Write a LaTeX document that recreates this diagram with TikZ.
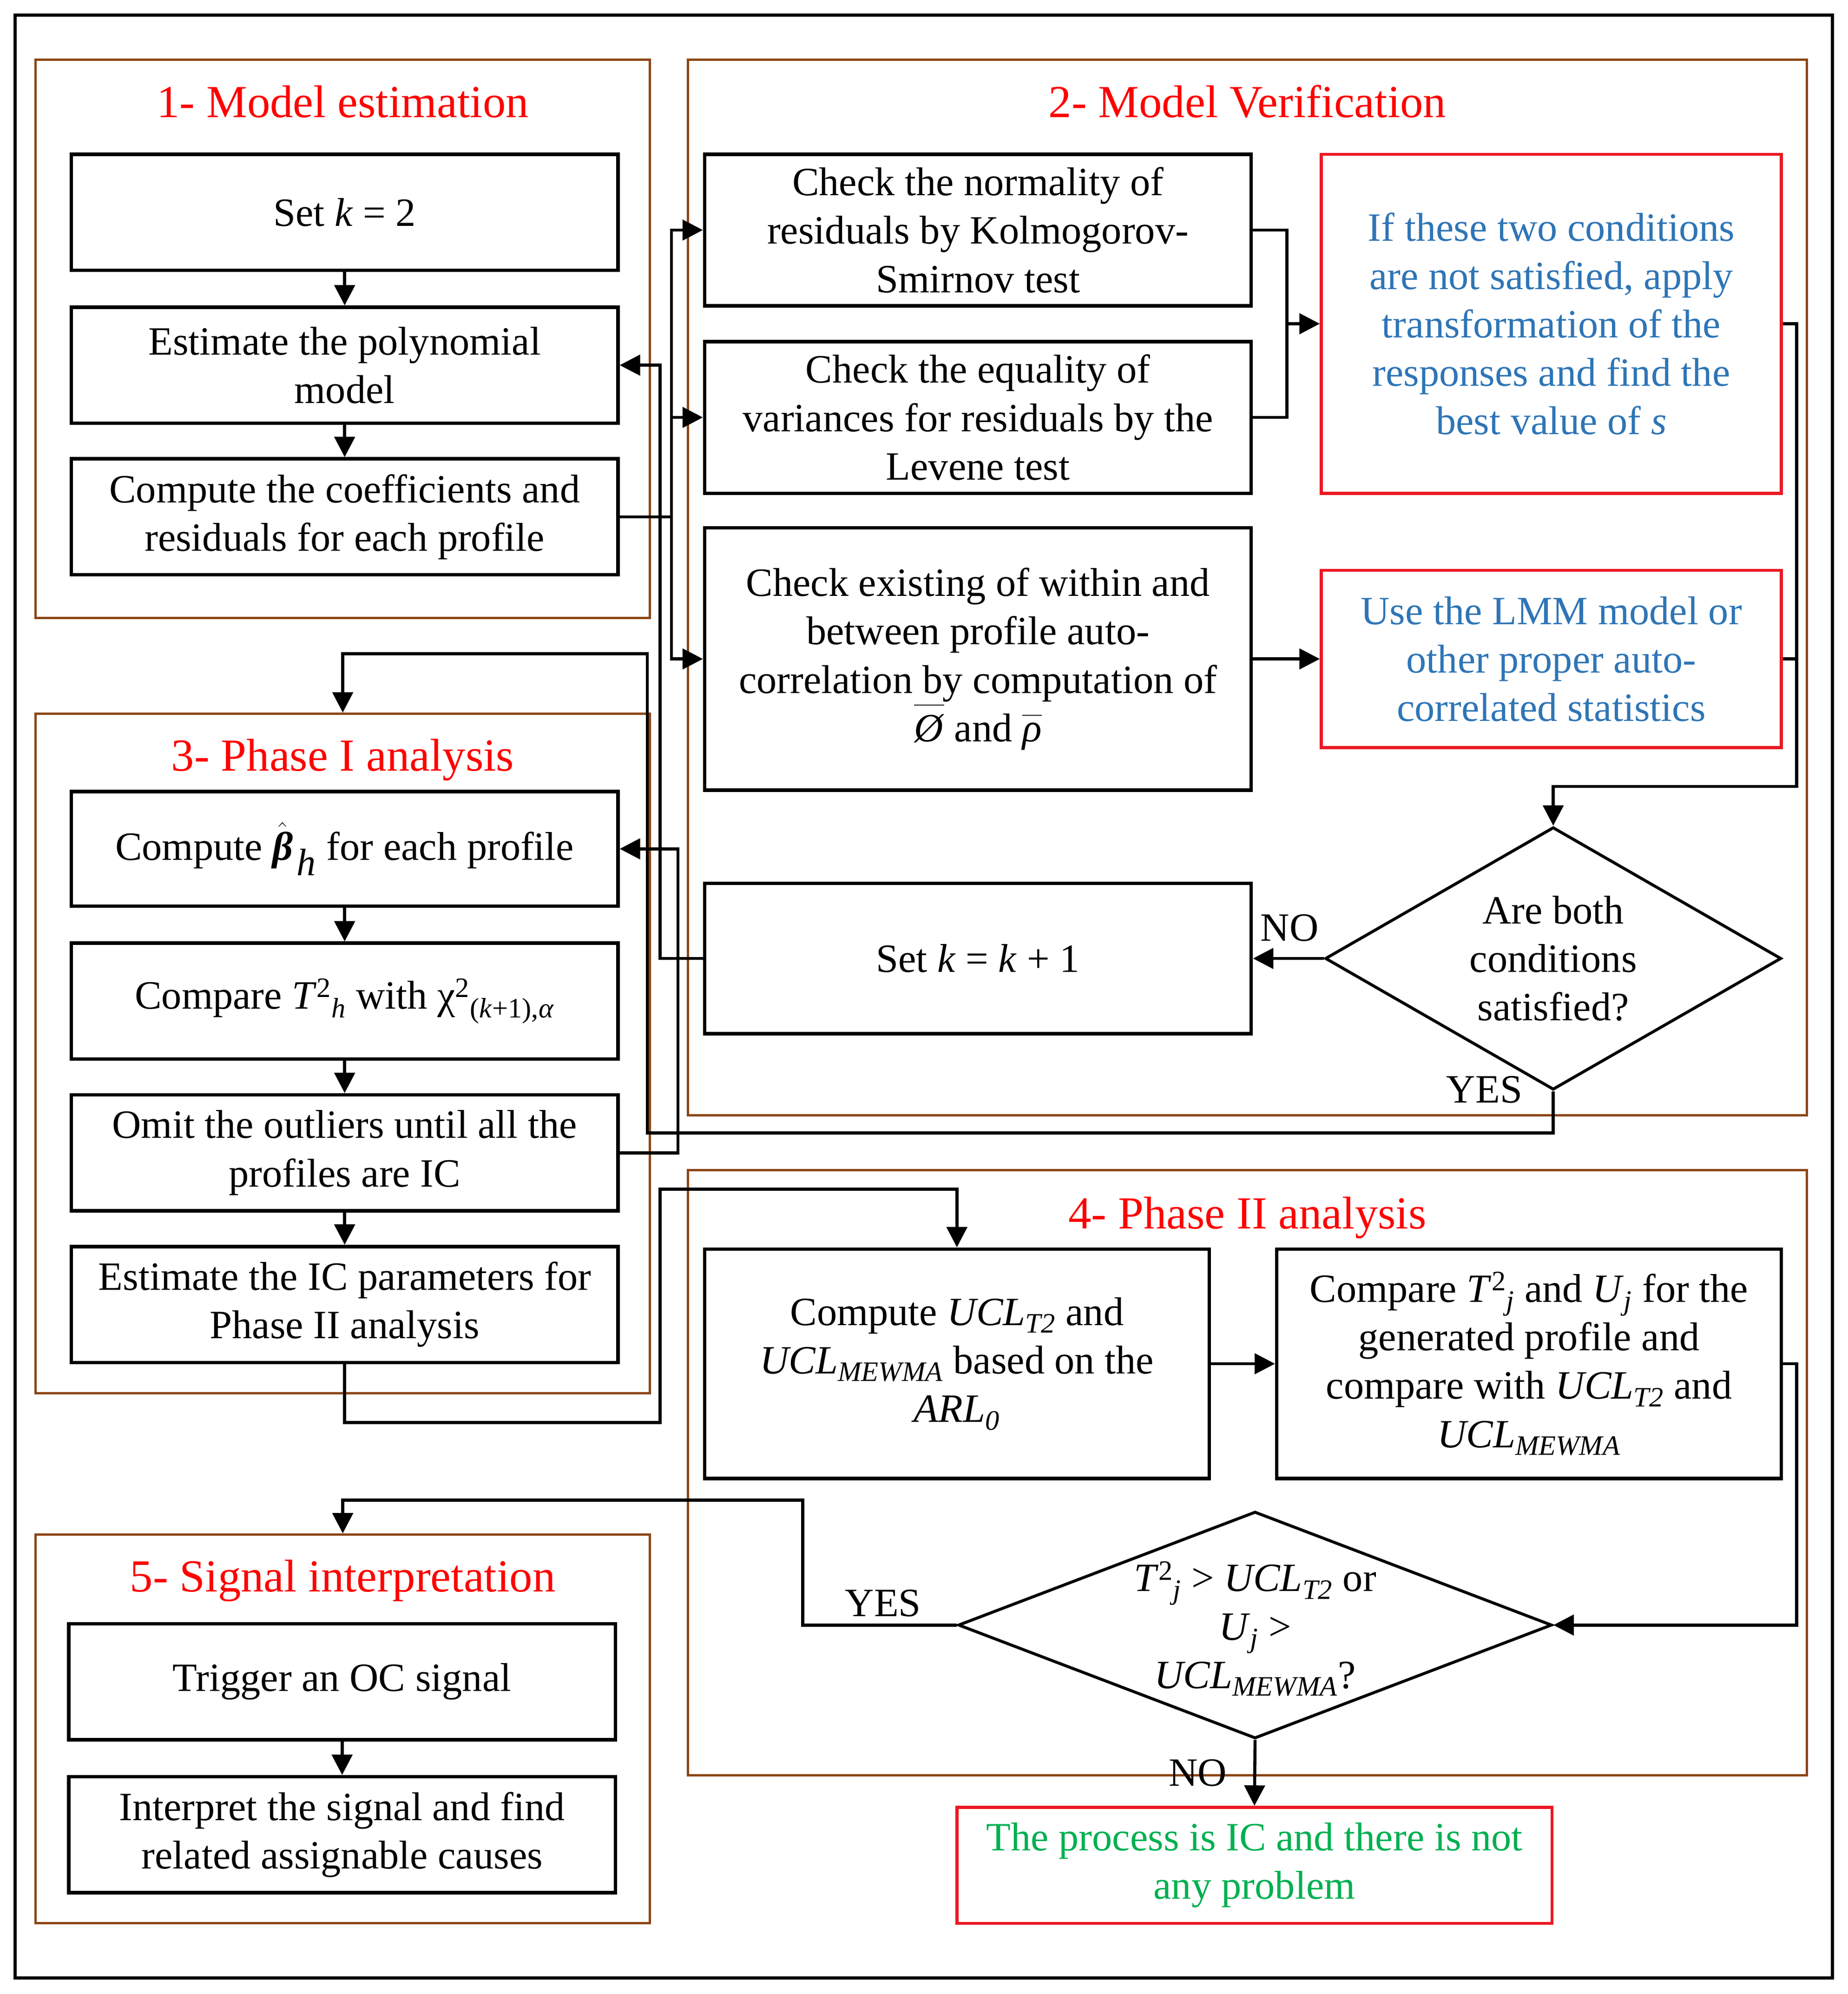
\documentclass[tikz,border=0pt]{standalone}
\usepackage{amsmath}
\usepackage{fontspec}
\setmainfont{Liberation Serif}
\usetikzlibrary{arrows.meta,shapes.geometric,calc}
\definecolor{brownc}{RGB}{140,70,20}
\definecolor{titred}{RGB}{255,0,0}
\definecolor{boxred}{RGB}{235,25,35}
\definecolor{txtblue}{RGB}{46,117,182}
\definecolor{txtgreen}{RGB}{0,176,80}
\newcommand\bodyfs{\fontsize{31.5}{38}\selectfont}
\newcommand\titlefs{\fontsize{36}{43}\selectfont}
\begin{document}
\begin{tikzpicture}[x=1pt,y=-1pt,
 blk/.style={draw, line width=2.7pt, inner sep=0pt, align=center, font=\bodyfs},
 rblk/.style={blk, draw=boxred, line width=2.4pt},
 grp/.style={draw=brownc, line width=1.8pt, inner sep=0pt},
 ttl/.style={font=\titlefs, text=titred, anchor=base, inner sep=0pt},
 dia/.style={draw, diamond, line width=2.3pt, inner sep=0pt},
 lbl/.style={font=\bodyfs, inner sep=0pt},
 ln/.style={line width=2.4pt},
 arr/.style={ln, -{Triangle[length=16pt,width=16pt]}},
]
\useasboundingbox (0,0) rectangle (1450,1564.5);
\node[draw, line width=2.6pt, inner sep=0pt, minimum width=1426pt, minimum height=1540pt] (frame) at (725,782) {};

% group frames
\node[grp, minimum width=482pt, minimum height=438pt] (g1) at (269,266) {};
\node[grp, minimum width=878pt, minimum height=828pt] (g2) at (979,461) {};
\node[grp, minimum width=482pt, minimum height=533pt] (g3) at (269,826.5) {};
\node[grp, minimum width=878pt, minimum height=475pt] (g4) at (979,1155.5) {};
\node[grp, minimum width=482pt, minimum height=305pt] (g5) at (269,1356.5) {};

\node[ttl] (t1) at (269,92) {1- Model estimation};
\node[ttl] (t2) at (979,92) {2- Model Verification};
\node[ttl] (t3) at (269,605) {3- Phase I analysis};
\node[ttl] (t4) at (979,964) {4- Phase II analysis};
\node[ttl] (t5) at (269,1249) {5- Signal interpretation};

% group 1
\node[blk, minimum width=429pt, minimum height=91pt] (setk) at (270.5,166.5) {Set \textit{k} = 2};
\node[blk, minimum width=429pt, minimum height=91pt] (estpoly) at (270.5,286.5) {Estimate the polynomial\\model};
\node[blk, minimum width=429pt, minimum height=91pt] (coeffs) at (270.5,405.5) {Compute the coefficients and\\residuals for each profile};

% group 2
\node[blk, minimum width=429pt, minimum height=119pt] (norm) at (767.5,180.5) {Check the normality of\\residuals by Kolmogorov-\\Smirnov test};
\node[blk, minimum width=429pt, minimum height=119pt] (equal) at (767.5,327.5) {Check the equality of\\variances for residuals by the\\Levene test};
\node[blk, minimum width=429pt, minimum height=206pt] (exist) at (767.5,517) {Check existing of within and\\between profile auto-\\correlation by computation of\\$\overline{\mbox{\rule{0pt}{25pt}\textit{Ø}}}$ and $\overline{\mbox{\rule{0pt}{17pt}\textit{ρ}}}$};
\node[rblk, text=txtblue, minimum width=361pt, minimum height=266pt] (red1) at (1217.5,254) {If these two conditions\\are not satisfied, apply\\transformation of the\\responses and find the\\best value of \textit{s}};
\node[rblk, text=txtblue, minimum width=361pt, minimum height=139pt] (red2) at (1217.5,517) {Use the LMM model or\\other proper auto-\\correlated statistics};
\node[blk, minimum width=429pt, minimum height=118pt] (setk1) at (767.5,752) {Set \textit{k} = \textit{k} + 1};
\node[dia, minimum width=358pt, minimum height=206pt] (d1) at (1219,752) {};
\node[lbl, align=center] (d1t) at (d1) {Are both\\conditions\\satisfied?};

% group 3
\node[blk, minimum width=429pt, minimum height=90pt] (beta) at (270.5,666) {Compute $\hat{\mbox{\rule{0pt}{23pt}\bfseries\itshape β}}$\kern3pt\textsubscript{\fontsize{30}{30}\selectfont\textit{h}} for each profile};
\node[blk, minimum width=429pt, minimum height=91pt] (compare) at (270.5,785.5) {Compare \textit{T}\textsuperscript{2}\textsubscript{\textit{h}} with χ\textsuperscript{2}\textsubscript{(\textit{k}+1),\textit{α}}};
\node[blk, minimum width=429pt, minimum height=91pt] (omit) at (270.5,904.5) {Omit the outliers until all the\\profiles are IC};
\node[blk, minimum width=429pt, minimum height=91pt] (estIC) at (270.5,1023.5) {Estimate the IC parameters for\\Phase II analysis};

% group 4
\node[blk, minimum width=396pt, minimum height=180pt] (ucl) at (751,1070) {Compute \textit{UCL}\textsubscript{\textit{T2}} and\\\textit{UCL}\textsubscript{\textit{MEWMA}} based on the\\\textit{ARL}\textsubscript{\textit{0}}};
\node[blk, minimum width=396pt, minimum height=180pt] (cmpj) at (1200,1070) {Compare \textit{T}\textsuperscript{2}\textsubscript{\textit{j}} and \textit{U}\textsubscript{\textit{j}} for the\\generated profile and\\compare with \textit{UCL}\textsubscript{\textit{T2}} and\\\textit{UCL}\textsubscript{\textit{MEWMA}}};
\node[dia, minimum width=466pt, minimum height=178pt] (d2) at (985,1275) {};
\node[lbl, align=center] (d2t) at (985,1278) {\textit{T}\textsuperscript{2}\textsubscript{\textit{j}} > \textit{UCL}\textsubscript{\textit{T2}} or\\\textit{U}\textsubscript{\textit{j}} >\\\textit{UCL}\textsubscript{\textit{MEWMA}}?};
\node[rblk, text=txtgreen, minimum width=467pt, minimum height=91pt] (green) at (984.5,1463.5) {The process is IC and there is not\\any problem};

% group 5
\node[blk, minimum width=429pt, minimum height=91pt] (trigger) at (268.5,1319.5) {Trigger an OC signal};
\node[blk, minimum width=429pt, minimum height=91pt] (interp) at (268.5,1439.5) {Interpret the signal and find\\related assignable causes};

% labels
\node[lbl] (no1) at (1012,728) {NO};
\node[lbl] (yes1) at (1165,855) {YES};
\node[lbl] (yes2) at (693,1258) {YES};
\node[lbl] (no2) at (940,1391) {NO};

% connectors group 1
\draw[arr] (setk) -- (estpoly);
\draw[arr] (estpoly) -- (coeffs);

\coordinate (bx) at (527,0);
\draw[ln] (coeffs.east) -- (coeffs.east -| bx);
\draw[arr] (coeffs.east -| bx) |- (norm.west);
\draw[arr] (coeffs.east -| bx) |- (equal.west);
\draw[arr] (coeffs.east -| bx) |- (exist.west);

\coordinate (brx) at (1010,0);
\draw[ln] (norm.east) -| (brx |- equal.east) -- (equal.east);
\draw[arr] (brx |- red1.west) -- (red1.west);
\draw[arr] (exist.east) -- (red2.west);

\coordinate (rx) at (1410,617);
\draw[arr] (red1.east) -| (rx) -| (d1.north);
\draw[ln] (red2.east) -- (red2.east -| rx);

\draw[arr] (d1.west) -- (setk1.east);
\coordinate (lx) at (518,0);
\draw[arr] (setk1.west) -- (setk1.west -| lx) |- (estpoly.east);

\coordinate (yb) at (508,889);
\coordinate (yt) at (508,513);
\draw[arr] (d1.south) |- (yb) -- (yt) -| (g3.north);

% group 3
\draw[arr] (beta) -- (compare);
\draw[arr] (compare) -- (omit);
\draw[arr] (omit) -- (estIC);
\coordinate (ox) at (532,0);
\draw[arr] (omit.east) -- (omit.east -| ox) |- (beta.east);

\coordinate (eb) at (518,1116);
\coordinate (et) at (518,933);
\draw[arr] (estIC.south) |- (eb) -- (et) -| (ucl.north);

% group 4
\draw[arr] (ucl.east) -- (cmpj.west);
\coordinate (cx) at (1410,0);
\draw[arr] (cmpj.east) -| (cx |- d2.east) -- (d2.east);
\coordinate (qy) at (630,1177);
\draw[arr] (d2.west) -| (qy) -| (g5.north);
\draw[arr] (d2.south) -- (green.north);

% group 5
\draw[arr] (trigger) -- (interp);
\end{tikzpicture}
\end{document}
